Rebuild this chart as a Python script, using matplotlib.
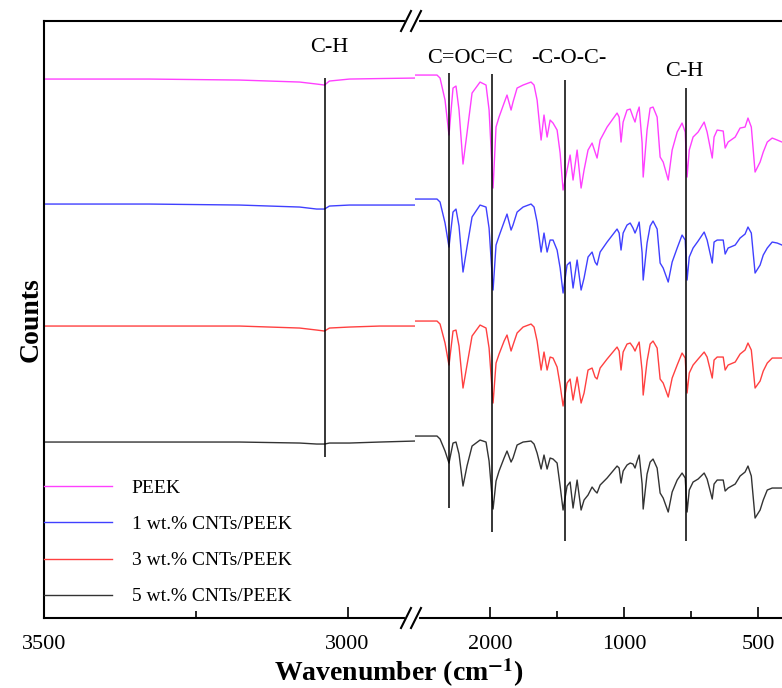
import numpy as np
import matplotlib.pyplot as plt
from matplotlib.lines import Line2D
from matplotlib.ticker import NullFormatter

plt.rcParams['font.family'] = ['Liberation Serif', 'DejaVu Serif']
plt.rcParams['mathtext.fontset'] = 'stix'

labels = ['PEEK', '1 wt.% CNTs/PEEK', '3 wt.% CNTs/PEEK', '5 wt.% CNTs/PEEK']
colors = ['#ff40ff', '#4040ff', '#ff4040', '#333333']
offsets = [565, 441, 319, 204]

# 3500 - 2890 cm-1 segment (linear)
wn_high = [3500, 3327, 3178, 3079, 3051, 3038, 3030, 2997, 2947, 2889]
pink_high = [-4, -4, -5, -7, -9, -10, -6, -4, -3.5, -3]
blue_high = [-5, -5, -6, -8, -10, -10, -7, -6, -6, -6]
red_high = [-5, -5, -5, -7, -9, -10, -7, -6, -5, -5]
black_high = [-6, -6, -6, -7, -8, -8, -7, -7, -6, -5]

# 2950 - 440 cm-1 segment (log spaced)
wn_low = [2948, 2631, 2590, 2524, 2473, 2422, 2385, 2348, 2300, 2253,
          2195, 2106, 2042, 2010, 1969, 1939, 1909, 1860, 1832, 1794,
          1776, 1739, 1686, 1618, 1593, 1568, 1536, 1513, 1489, 1466,
          1444, 1414, 1392, 1371, 1343, 1322, 1302, 1275, 1249, 1230,
          1205, 1180, 1162, 1150, 1132, 1092, 1037, 1026, 1016, 1005,
          985, 969, 955, 945, 935, 925, 911, 906, 888, 874,
          861, 843, 830, 817, 796, 780, 760, 741, 729, 722,
          714, 700, 682, 661, 651, 634, 628, 618, 599, 593,
          584, 563, 549, 535, 527, 518, 508, 495, 487, 477,
          465, 453, 442]
pink_low = [0, 0, -3, -25, -60, -13, -11, -35, -89, -58,
            -18, -7, -10, -35, -113, -52, -42, -28, -20, -35,
            -27, -13, -10, -7, -10, -25, -65, -40, -62, -45,
            -48, -55, -78, -115, -95, -80, -105, -75, -113, -95,
            -75, -68, -77, -83, -65, -52, -38, -42, -67, -47,
            -35, -34, -42, -47, -38, -32, -68, -102, -55, -33,
            -32, -42, -82, -87, -105, -75, -57, -48, -57, -102,
            -75, -62, -57, -47, -57, -83, -62, -55, -56, -73,
            -67, -62, -53, -52, -43, -52, -97, -87, -77, -67,
            -63, -65, -67]
blue_low = [0, 0, -3, -24, -48, -13, -10, -27, -73, -48,
            -18, -6, -8, -29, -91, -46, -37, -23, -15, -31,
            -26, -13, -8, -5, -8, -23, -53, -34, -53, -41,
            -41, -51, -69, -94, -66, -63, -89, -61, -91, -79,
            -58, -53, -63, -66, -53, -43, -30, -34, -51, -34,
            -26, -24, -29, -34, -29, -23, -54, -81, -44, -27,
            -22, -30, -64, -69, -83, -63, -49, -36, -41, -81,
            -58, -49, -42, -33, -41, -64, -43, -41, -41, -55,
            -49, -46, -39, -35, -28, -34, -74, -66, -56, -49,
            -43, -44, -46]
red_low = [0, 0, -3, -22, -44, -10, -9, -25, -67, -44,
           -15, -4, -7, -27, -82, -42, -33, -20, -14, -30,
           -24, -12, -6, -3, -6, -20, -49, -31, -49, -36,
           -37, -46, -64, -85, -62, -58, -79, -56, -82, -72,
           -49, -47, -56, -58, -47, -38, -26, -30, -49, -31,
           -23, -22, -26, -30, -25, -21, -50, -74, -40, -23,
           -20, -27, -58, -62, -76, -57, -44, -32, -37, -72,
           -52, -44, -38, -31, -36, -57, -39, -36, -36, -49,
           -44, -41, -33, -29, -22, -29, -67, -60, -50, -42,
           -37, -37, -37]
black_low = [0, 0, -3, -15, -27, -7, -6, -18, -50, -30,
             -10, -4, -6, -25, -73, -45, -35, -22, -15, -26,
             -22, -9, -6, -5, -8, -17, -33, -19, -33, -22,
             -23, -27, -50, -74, -50, -46, -72, -44, -74, -64,
             -59, -51, -55, -57, -49, -42, -30, -32, -47, -35,
             -29, -27, -28, -32, -25, -19, -48, -73, -38, -26,
             -23, -32, -57, -62, -76, -56, -44, -37, -42, -76,
             -54, -46, -43, -37, -43, -63, -48, -44, -44, -55,
             -52, -48, -40, -36, -30, -40, -82, -74, -64, -54,
             -52, -52, -52]

high_series = [pink_high, blue_high, red_high, black_high]
low_series = [pink_low, blue_low, red_low, black_low]

# band markers
band_wn = [3038, 2473, 1979, 1357, 725]
band_top = [562, 567, 566, 560, 552]
band_bottom = [183, 132, 108, 99, 99]
band_text = ['C-H', 'C=OC=C', '-C-O-C-', 'C-H']
band_text_wn = [3030, 2218, 1329, 733]
band_text_y = [593, 582, 582, 569]

fig = plt.figure(figsize=(7.82, 6.88), dpi=100)
ax1 = fig.add_axes([0.0563, 0.1017, 0.4744, 0.8677])
ax2 = fig.add_axes([0.5307, 0.1017, 0.4693, 0.8677])

for ys, off, c, lab in zip(high_series, offsets, colors, labels):
    ax1.plot(wn_high, np.array(ys) + off, color=c, lw=1.0, label=lab)
for ys, off, c in zip(low_series, offsets, colors):
    ax2.plot(wn_low, np.array(ys) + off, color=c, lw=1.0)

ax1.vlines(band_wn[0], band_bottom[0], band_top[0], color='black', lw=1.1)
ax2.vlines(band_wn[1:], band_bottom[1:], band_top[1:], color='black', lw=1.1)

ax1.text(band_text_wn[0], band_text_y[0], band_text[0], ha='center', va='center', fontsize=16)
for w, y, t in zip(band_text_wn[1:], band_text_y[1:], band_text[1:]):
    ax2.text(w, y, t, ha='center', va='center', fontsize=16)

ax1.set_xlim(3500, 2889)
ax2.set_xscale('log')
ax2.set_xlim(2948, 442)
for ax in (ax1, ax2):
    ax.set_ylim(22, 619)
    ax.set_yticks([])
    for s in ax.spines.values():
        s.set_linewidth(1.5)

ax1.spines['right'].set_visible(False)
ax2.spines['left'].set_visible(False)
ax2.spines['right'].set_visible(False)

ax1.set_xticks([3500, 3000])
ax1.set_xticklabels(['3500', '3000'])
ax1.set_xticks([3250], minor=True)
ax2.set_xticks([2000, 1000, 500])
ax2.set_xticklabels(['2000', '1000', '500'])
ax2.set_xticks([1414, 707], minor=True)
ax2.xaxis.set_minor_formatter(NullFormatter())
for ax in (ax1, ax2):
    ax.tick_params(axis='x', which='major', direction='in', length=8, width=1.2,
                   labelsize=16, pad=12)
    ax.tick_params(axis='x', which='minor', direction='in', length=5, width=1.2)

ax1.set_ylabel('Counts', fontsize=20, fontweight='bold', labelpad=0)
fig.text(0.51, 0.022, r'Wavenumber (cm$^{\mathbf{-1}}$)', ha='center', va='center',
         fontsize=20, fontweight='bold')

ax1.legend(loc='upper left', bbox_to_anchor=(0.0, 0.232), frameon=False,
           fontsize=14, handlelength=3.5, handletextpad=1.0, labelspacing=0.95,
           borderaxespad=0, borderpad=0)

# axis break marks
W, H = 782, 688
for yb in (21, 618):
    fig.add_artist(Line2D([407 / W, 417 / W], [(H - yb) / H, (H - yb) / H],
                          color='white', lw=3))
    for x0 in (401, 411):
        fig.add_artist(Line2D([x0 / W, (x0 + 10) / W],
                              [(H - yb - 10) / H, (H - yb + 10) / H],
                              color='black', lw=1.5))

fig.savefig('out.png', dpi=100)
